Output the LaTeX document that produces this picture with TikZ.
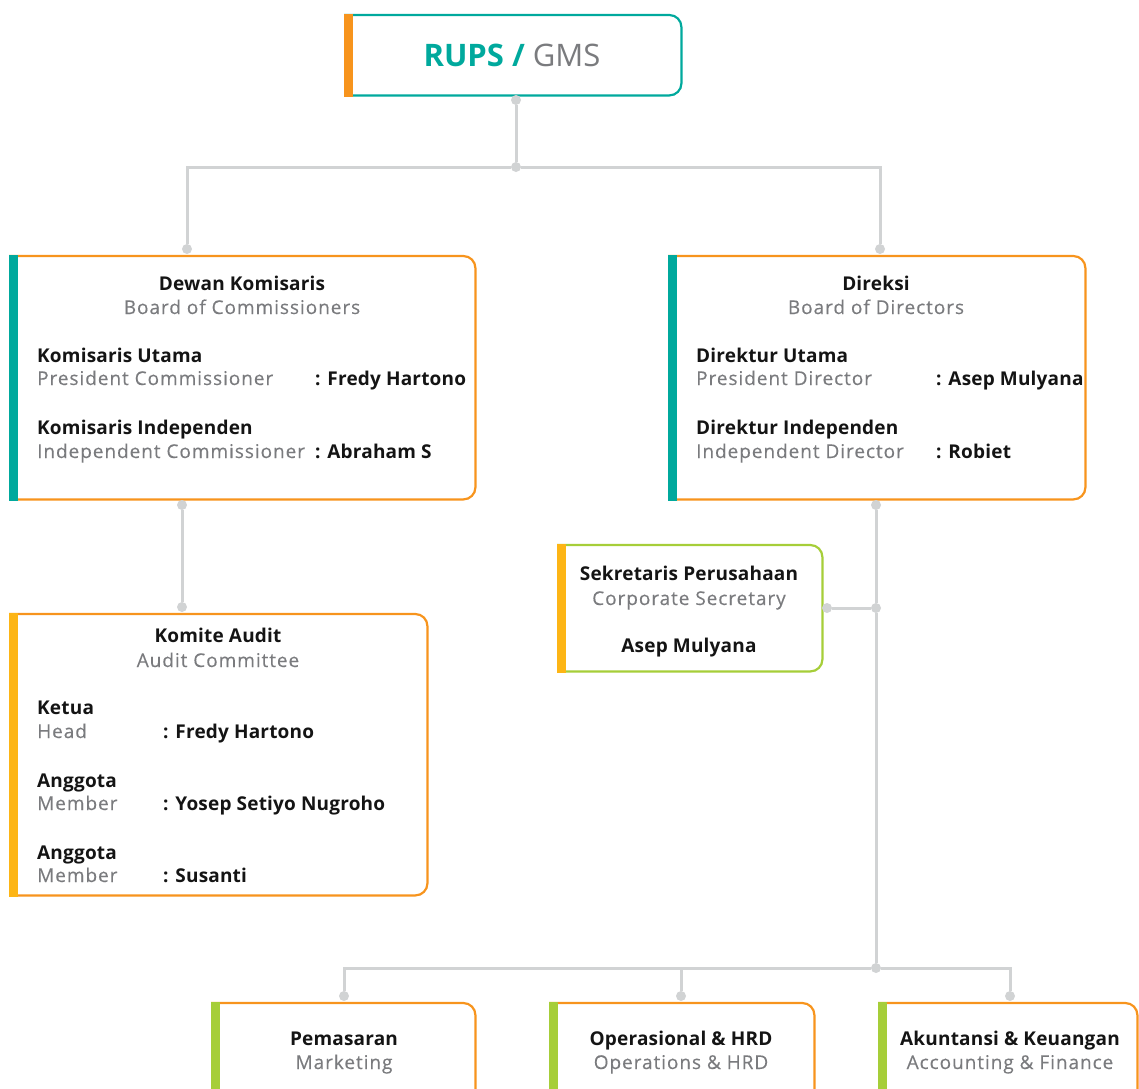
\documentclass[tikz,border=0pt]{standalone}
\usepackage{fontspec}
\setmainfont{Open Sans}
\newfontfamily\headfont[LetterSpace=1]{Open Sans}
\newfontfamily\subfont[LetterSpace=5,FakeBold=0.3]{Open Sans}
\definecolor{teal}{HTML}{00A99D}
\definecolor{orng}{HTML}{F7941D}
\definecolor{yelo}{HTML}{FDB515}
\definecolor{lime}{HTML}{A6CE39}
\definecolor{linegray}{HTML}{D1D3D4}
\definecolor{textgray}{HTML}{7A7B7E}
\tikzset{
  dot/.style={circle,fill=linegray,inner sep=0pt,minimum size=10pt},
  link/.style={draw=linegray,line width=3pt},
  frame/.style={rectangle,inner sep=0pt,anchor=north west},
  head/.style={font=\fontsize{19}{23}\headfont\bfseries,text=black!92,inner sep=0pt,text height=14pt,text depth=0pt},
  sub/.style={font=\fontsize{19}{23}\subfont,text=textgray,inner sep=0pt,text height=14pt,text depth=0pt},
}
% name, x, y, width, height, bar colour, border colour
\newcommand{\orgbox}[7]{
  \node[frame,minimum width=#4pt,minimum height=#5pt] (#1) at (#2,#3) {};
  \draw[#7,line width=2.2pt,rounded corners=12pt] (#1.north west) -- (#1.north east) -- (#1.south east) -- (#1.south west);
  \fill[#6] ([yshift=1.1pt]#1.north west) rectangle ([xshift=9pt,yshift=-1.1pt]#1.south west);
}
\begin{document}
\begin{tikzpicture}[x=1pt,y=-1pt]
\clip (0,0) rectangle (1139,1088);
\useasboundingbox (0,0) rectangle (1139,1088);
% boxes
\orgbox{rups}{344}{15}{337}{80}{orng}{teal}
\orgbox{dk}{9}{256}{466}{243}{teal}{orng}
\orgbox{dir}{668}{256}{417}{243}{teal}{orng}
\orgbox{audit}{9}{614}{418}{281}{yelo}{orng}
\orgbox{sek}{557}{545}{265}{126}{yelo}{lime}
\orgbox{pem}{211}{1003}{264}{120}{lime}{orng}
\orgbox{ops}{549}{1003}{265}{120}{lime}{orng}
\orgbox{akt}{878}{1003}{259}{120}{lime}{orng}
% dots
\node[dot] (d1) at (516,100) {};
\node[dot] (d2) at (516,167) {};
\node[dot] (d3) at (187,249) {};
\node[dot] (d4) at (880,249) {};
\node[dot] (d5) at (182,505) {};
\node[dot] (d6) at (182,607) {};
\node[dot] (d7) at (876,505) {};
\node[dot] (j1) at (876,608) {};
\node[dot] (sd) at (827,608) {};
\node[dot] (d8) at (876,968) {};
\node[dot] (b1) at (344,996) {};
\node[dot] (b2) at (681,996) {};
\node[dot] (b3) at (1010,996) {};
% connectors
\draw[link] (d1) -- (d2);
\draw[link] (d3) |- (d2) -| (d4);
\draw[link] (d5) -- (d6);
\draw[link] (d7) -- (j1) -- (d8);
\draw[link] (sd) -- (j1);
\draw[link] (b1) |- (d8) -| (b3);
\draw[link] (b2) -- (b2 |- d8);
% texts
\node[inner sep=0pt,font=\fontsize{31}{36}\selectfont] (rupst) at (512,55) {{\color{teal}\bfseries RUPS /} {\color{textgray}GMS}};

\node[head] (dkh) at (242,283) {Dewan Komisaris};
\node[sub] (dks) at (242,307) {Board of Commissioners};
\node[head,anchor=west] (dk1) at (37,355) {Komisaris Utama};
\node[sub,anchor=west] (dk2) at (37,378) {President Commissioner};
\node[head,anchor=west] (dk3) at (315,378) {: Fredy Hartono};
\node[head,anchor=west] (dk4) at (37,427) {Komisaris Independen};
\node[sub,anchor=west] (dk5) at (37,451) {Independent Commissioner};
\node[head,anchor=west] (dk6) at (315,451) {: Abraham S};

\node[head] (dirh) at (876,283) {Direksi};
\node[sub] (dirs) at (876,307) {Board of Directors};
\node[head,anchor=west] (dir1) at (696,355) {Direktur Utama};
\node[sub,anchor=west] (dir2) at (696,378) {President Director};
\node[head,anchor=west] (dir3) at (936,378) {: Asep Mulyana};
\node[head,anchor=west] (dir4) at (696,427) {Direktur Independen};
\node[sub,anchor=west] (dir5) at (696,451) {Independent Director};
\node[head,anchor=west] (dir6) at (936,451) {: Robiet};

\node[head] (sekh) at (689,573) {Sekretaris Perusahaan};
\node[sub] (seks) at (689,598) {Corporate Secretary};
\node[head] (sekn) at (689,645) {Asep Mulyana};

\node[head] (audh) at (218,635) {Komite Audit};
\node[sub] (auds) at (218,660) {Audit Committee};
\node[head,anchor=west] (aud1) at (37,707) {Ketua};
\node[sub,anchor=west] (aud2) at (37,731) {Head};
\node[head,anchor=west] (aud3) at (163,731) {: Fredy Hartono};
\node[head,anchor=west] (aud4) at (37,780) {Anggota};
\node[sub,anchor=west] (aud5) at (37,803) {Member};
\node[head,anchor=west] (aud6) at (163,803) {: Yosep Setiyo Nugroho};
\node[head,anchor=west] (aud7) at (37,852) {Anggota};
\node[sub,anchor=west] (aud8) at (37,875) {Member};
\node[head,anchor=west] (aud9) at (163,875) {: Susanti};

\node[head] (pemh) at (344,1038) {Pemasaran};
\node[sub] (pems) at (344,1062) {Marketing};
\node[head] (opsh) at (681,1038) {Operasional \& HRD};
\node[sub] (opss) at (681,1062) {Operations \& HRD};
\node[head] (akth) at (1010,1038) {Akuntansi \& Keuangan};
\node[sub] (akts) at (1010,1062) {Accounting \& Finance};
\end{tikzpicture}
\end{document}
